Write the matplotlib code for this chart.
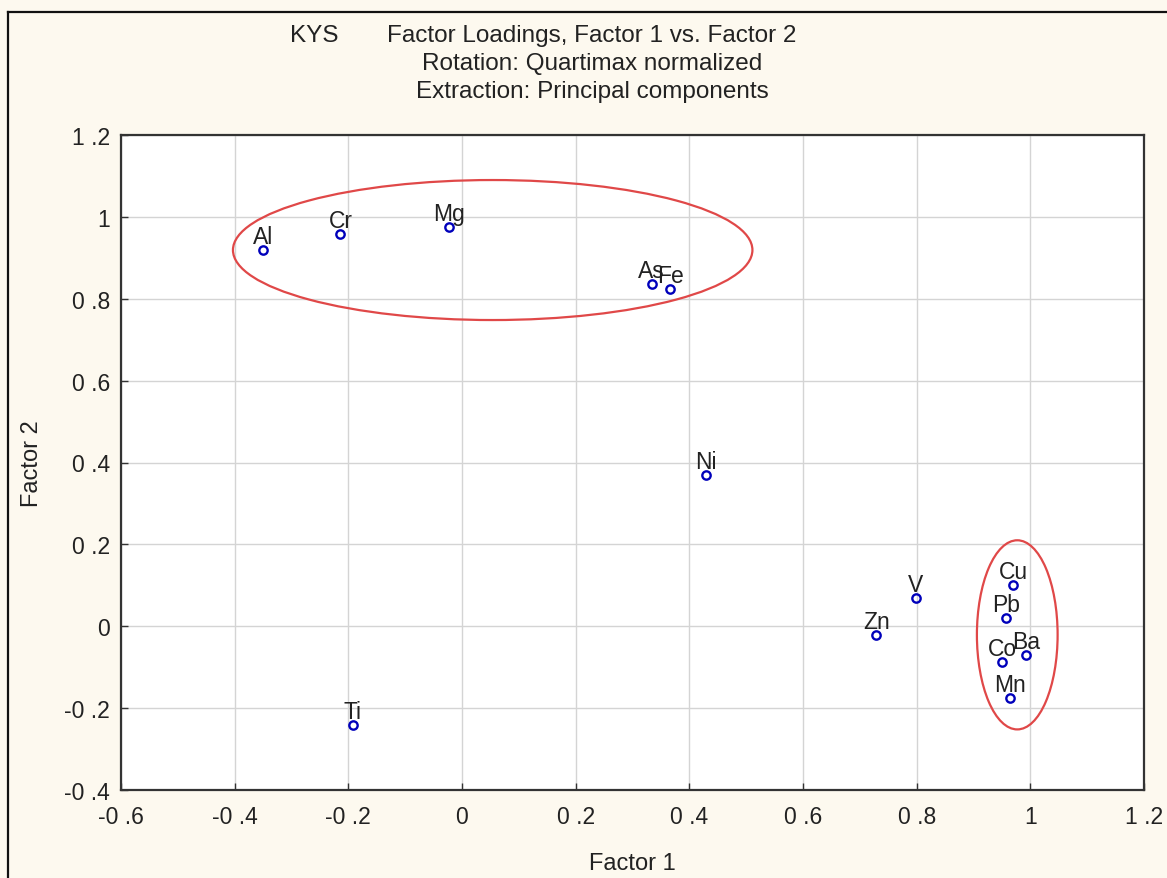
import matplotlib
matplotlib.use("Agg")
import matplotlib.pyplot as plt
from matplotlib.patches import Ellipse
from matplotlib.ticker import FuncFormatter, FixedLocator
from matplotlib.lines import Line2D

plt.rcParams['font.family'] = ['Liberation Sans', 'DejaVu Sans']

# ---- data ----
elements = ["Al", "Cr", "Mg", "As", "Fe", "Ni", "Ti", "Zn", "V", "Cu", "Pb", "Co", "Ba", "Mn"]
factor1 = [-0.350, -0.214, -0.023, 0.334, 0.366, 0.429, -0.192, 0.729, 0.798, 0.970, 0.958, 0.951, 0.993, 0.965]
factor2 = [0.919, 0.958, 0.976, 0.836, 0.824, 0.369, -0.242, -0.022, 0.068, 0.100, 0.020, -0.088, -0.071, -0.176]

xticks = [-0.6, -0.4, -0.2, 0, 0.2, 0.4, 0.6, 0.8, 1.0, 1.2]
yticks = [-0.4, -0.2, 0, 0.2, 0.4, 0.6, 0.8, 1.0, 1.2]

# ellipses: (center x, center y, width, height)
ellipse_centers_x = [0.054, 0.977]
ellipse_centers_y = [0.919, -0.021]
ellipse_widths = [0.914, 0.142]
ellipse_heights = [0.342, 0.462]

W, H = 1167, 879
bg = "#fdf9ef"
txt = "#222222"
fig = plt.figure(figsize=(W/100, H/100), dpi=100, facecolor=bg)
ax = fig.add_axes([121/W, 1 - 791/H, (1144-121)/W, (791-136)/H])
ax.set_facecolor("white")

ax.set_xlim(-0.6, 1.2)
ax.set_ylim(-0.4, 1.2)


def fmt(v, pos):
    if abs(v) < 1e-9:
        return "0"
    if abs(v - round(v)) < 1e-9:
        return "%d" % round(v)
    s = "%.1f" % v
    return s.replace(".", " .")


ax.xaxis.set_major_locator(FixedLocator(xticks))
ax.yaxis.set_major_locator(FixedLocator(yticks))
ax.xaxis.set_major_formatter(FuncFormatter(fmt))
ax.yaxis.set_major_formatter(FuncFormatter(fmt))
ax.tick_params(axis='both', direction='in', length=5, width=1, colors="#333333",
               labelsize=16.5, labelcolor=txt)
ax.tick_params(axis='x', pad=11)
ax.tick_params(axis='y', pad=8)
ax.grid(True, color="#d4d4d4", linewidth=1)
ax.set_axisbelow(True)
for sp in ax.spines.values():
    sp.set_color("#333333")
    sp.set_linewidth(1.6)

ax.plot(factor1, factor2, linestyle="none", marker="o", markersize=6,
        markerfacecolor="none", markeredgecolor="#0000bb", markeredgewidth=1.7, zorder=4)

for name, x, y in zip(elements, factor1, factor2):
    ax.annotate(name, (x, y), xytext=(0, 5), textcoords="offset points",
                ha="center", va="baseline", fontsize=16.5, color=txt, zorder=5)

for cx, cy, w, h in zip(ellipse_centers_x, ellipse_centers_y, ellipse_widths, ellipse_heights):
    ax.add_patch(Ellipse((cx, cy), w, h, fill=False, edgecolor="#e04848", linewidth=1.6, zorder=3))

fig.text(632/W, 1 - 864/H, "Factor 1", ha="center", va="center", fontsize=17, color=txt)
fig.text(32/W, 1 - 464/H, "Factor 2", ha="center", va="center", rotation=90,
         fontsize=17, color=txt)

title_fs = 17.5
fig.text(314/W, 1 - 36/H, "KYS", ha="center", va="center", fontsize=title_fs, color=txt)
fig.text(592/W, 1 - 36/H, "Factor Loadings, Factor 1 vs. Factor 2", ha="center", va="center",
         fontsize=title_fs, color=txt)
fig.text(592/W, 1 - 64/H, "Rotation: Quartimax normalized", ha="center", va="center",
         fontsize=title_fs, color=txt)
fig.text(592/W, 1 - 92/H, "Extraction: Principal components", ha="center", va="center",
         fontsize=title_fs, color=txt)

# figure frame (top and left visible)
fig.add_artist(Line2D([8/W, 8/W], [0, 1 - 13/H], transform=fig.transFigure,
                      color="#111111", linewidth=1.6))
fig.add_artist(Line2D([8/W, 1], [1 - 13/H, 1 - 13/H], transform=fig.transFigure,
                      color="#111111", linewidth=1.6))

fig.savefig("out.png", dpi=100, facecolor=bg)
